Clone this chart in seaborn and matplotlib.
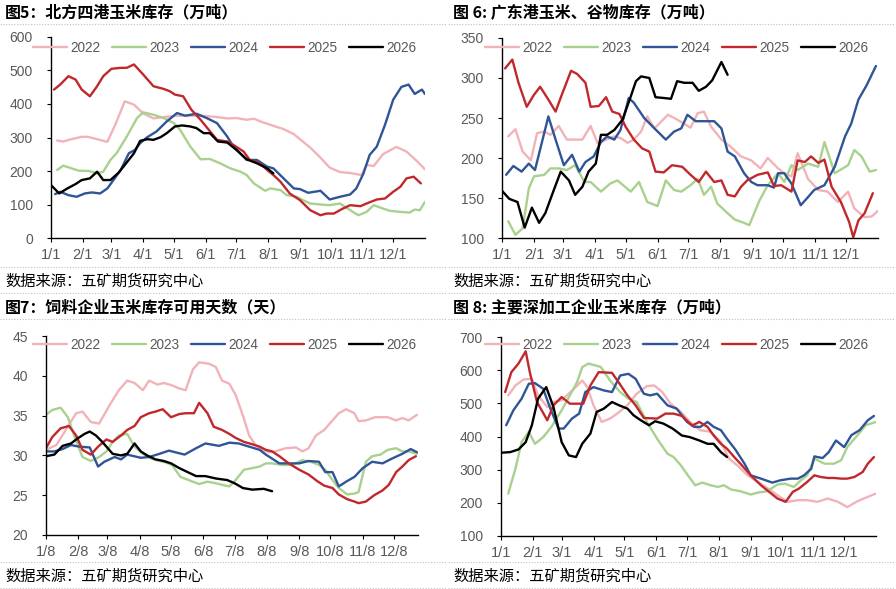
import matplotlib
matplotlib.use('Agg')
import matplotlib.pyplot as plt
import seaborn as sns
from matplotlib.lines import Line2D

sns.set_theme(style='white')
plt.rcParams['font.family'] = ['Liberation Sans', 'Noto Sans CJK SC', 'DejaVu Sans']

years = ['2022', '2023', '2024', '2025', '2026']
colors = ['#F2B3B8', '#A9D18E', '#2F5597', '#C0282C', '#000000']

month_days = [0, 31, 59, 90, 120, 151, 181, 212, 243, 273, 304, 334]
labels_1 = ['1/1', '2/1', '3/1', '4/1', '5/1', '6/1', '7/1', '8/1', '9/1', '10/1', '11/1', '12/1']
labels_8 = ['1/8', '2/8', '3/8', '4/8', '5/8', '6/8', '7/8', '8/8', '9/8', '10/8', '11/8', '12/8']

# ---- fig 5: north four ports corn stock (x = day of year)
p1_2022_x = [6, 12, 20, 30, 36, 45, 55, 63, 72, 81, 90, 100, 113, 123, 133, 146, 159, 172, 181, 191,
             198, 207, 217, 227, 237, 243, 253, 263, 272, 282, 292, 303, 308, 315, 324, 337, 347, 357, 365]
p1_2022_y = [291, 288, 295, 302, 302, 295, 287, 340, 408, 398, 372, 357, 362, 365, 365, 365, 362, 357, 358, 353,
             356, 345, 335, 325, 310, 295, 270, 240, 210, 197, 194, 188, 218, 215, 250, 272, 258, 230, 205]
p1_2023_x = [6, 12, 20, 27, 37, 45, 51, 58, 64, 74, 84, 90, 100, 110, 120, 126, 136, 146, 155, 165,
             175, 185, 191, 198, 209, 214, 224, 230, 240, 246, 253, 263, 272, 282, 292, 300, 308, 315, 324, 331,
             341, 350, 355, 360, 365]
p1_2023_y = [203, 216, 208, 201, 200, 193, 198, 233, 253, 303, 358, 375, 368, 358, 343, 323, 273, 235, 236, 223,
             208, 198, 188, 163, 141, 148, 143, 128, 123, 113, 103, 100, 98, 103, 83, 68, 78, 98, 88, 81,
             78, 76, 85, 83, 108]
p1_2024_x = [4, 9, 17, 25, 33, 40, 48, 55, 61, 68, 76, 82, 87, 94, 103, 113, 123, 131, 142, 152,
             162, 172, 178, 191, 201, 211, 217, 227, 237, 243, 251, 263, 272, 282, 292, 298, 305, 311, 318, 326,
             334, 342, 349, 355, 362, 365]
p1_2024_y = [131, 138, 128, 123, 133, 136, 133, 148, 173, 203, 253, 263, 283, 301, 318, 348, 373, 365, 371, 358,
             343, 303, 273, 233, 233, 213, 208, 178, 148, 146, 135, 141, 115, 123, 130, 148, 193, 248, 273, 338,
             413, 451, 458, 430, 443, 430]
p1_2025_x = [3, 9, 17, 24, 30, 38, 45, 51, 59, 68, 74, 81, 90, 100, 110, 116, 121, 129, 137, 146,
             154, 162, 172, 178, 188, 194, 204, 211, 217, 224, 233, 243, 253, 263, 269, 276, 285, 292, 302, 308,
             318, 326, 334, 341, 347, 354, 361]
p1_2025_y = [443, 458, 483, 473, 443, 423, 453, 483, 505, 508, 508, 518, 488, 453, 445, 438, 428, 423, 383, 353,
             323, 293, 288, 278, 258, 233, 223, 203, 188, 168, 133, 113, 83, 68, 73, 73, 88, 98, 95, 103,
             115, 118, 138, 153, 178, 183, 163]
p1_2026_x = [0, 8, 16, 24, 30, 38, 45, 51, 58, 66, 72, 81, 87, 94, 100, 107, 113, 121, 128, 136,
             142, 149, 155, 163, 172, 181, 191, 201, 211, 217]
p1_2026_y = [158, 133, 148, 161, 173, 178, 198, 173, 173, 195, 218, 253, 290, 295, 293, 301, 313, 333, 336, 333,
             328, 313, 313, 288, 285, 263, 235, 223, 208, 193]

# ---- fig 6: guangdong ports corn & grain stock
p2_2022_x = [6, 13, 20, 28, 34, 41, 47, 55, 63, 71, 78, 86, 93, 101, 109, 115, 122, 128, 135, 141,
             148, 161, 170, 183, 190, 196, 203, 213, 222, 232, 242, 251, 258, 268, 274, 281, 287, 297, 307, 316,
             326, 336, 342, 352, 359, 365]
p2_2022_y = [227, 236, 208, 197, 231, 233, 229, 240, 223, 223, 223, 240, 218, 223, 227, 225, 219, 223, 233, 252,
             237, 254, 248, 238, 256, 258, 239, 223, 214, 202, 197, 187, 200, 187, 181, 177, 206, 174, 160, 158,
             145, 158, 137, 126, 127, 134]
p2_2023_x = [6, 13, 20, 26, 31, 41, 47, 55, 63, 71, 80, 86, 96, 105, 112, 125, 133, 141, 151, 159,
             167, 174, 183, 190, 196, 203, 209, 219, 226, 235, 240, 250, 258, 268, 274, 281, 287, 297, 307, 313,
             323, 336, 342, 349, 357, 363]
p2_2023_y = [121, 104, 112, 162, 177, 179, 187, 187, 185, 191, 170, 170, 158, 168, 172, 158, 170, 145, 140, 172,
             160, 158, 166, 174, 154, 164, 143, 131, 123, 119, 116, 147, 166, 181, 170, 191, 185, 193, 189, 220,
             181, 191, 210, 202, 183, 185]
p2_2024_x = [4, 11, 19, 26, 32, 45, 52, 60, 68, 75, 81, 89, 96, 102, 109, 115, 123, 128, 138, 148,
             159, 167, 174, 180, 188, 196, 206, 213, 219, 226, 235, 242, 248, 258, 264, 268, 274, 281, 290, 297,
             303, 313, 323, 333, 339, 346, 354, 363]
p2_2024_y = [179, 190, 183, 193, 185, 252, 223, 191, 204, 183, 195, 202, 220, 227, 223, 235, 275, 269, 250, 237,
             223, 233, 237, 254, 246, 246, 246, 237, 208, 202, 181, 170, 166, 166, 163, 181, 181, 168, 141, 151,
             160, 166, 189, 227, 243, 273, 291, 315]
p2_2025_x = [3, 10, 16, 24, 31, 37, 45, 52, 58, 67, 73, 81, 86, 94, 101, 107, 114, 120, 128, 136,
             143, 149, 157, 165, 175, 183, 191, 198, 206, 213, 219, 226, 232, 238, 248, 258, 264, 271, 281, 287,
             294, 300, 307, 313, 320, 329, 337, 341, 346, 352, 360]
p2_2025_y = [312, 323, 294, 264, 279, 289, 273, 258, 279, 309, 305, 294, 264, 265, 276, 258, 255, 239, 223, 212,
             208, 183, 182, 191, 189, 179, 170, 183, 170, 172, 154, 152, 164, 172, 179, 182, 165, 166, 158, 197,
             195, 202, 194, 198, 164, 145, 120, 101, 122, 131, 156]
p2_2026_x = [0, 7, 15, 22, 29, 36, 42, 50, 57, 65, 71, 78, 84, 91, 96, 102, 109, 117, 125, 130,
             135, 143, 149, 157, 164, 170, 177, 185, 191, 198, 204, 213, 219]
p2_2026_y = [159, 149, 145, 113, 138, 119, 131, 159, 183, 172, 154, 164, 183, 193, 229, 229, 235, 248, 277, 296,
             302, 300, 276, 275, 274, 296, 294, 294, 284, 289, 297, 320, 304]

# ---- fig 7: feed mills corn stock days (x = days from 1/8)
p3_2022_x = [0, 10, 19, 29, 35, 43, 51, 61, 70, 78, 85, 93, 99, 107, 113, 121, 128, 134, 141, 147,
             157, 163, 169, 176, 182, 189, 195, 201, 208, 214, 220, 230, 240, 246, 252, 259, 267, 275, 281, 288,
             296, 300, 307, 316, 328, 336, 342, 348, 356]
p3_2022_y = [30.7, 31.3, 33.2, 35.3, 35.5, 34.2, 34.0, 36.3, 38.2, 39.4, 39.1, 38.2, 39.4, 38.9, 39.1, 38.8, 38.4, 38.2, 40.8, 41.7,
             41.5, 41.1, 39.4, 39.0, 37.6, 35.0, 32.5, 31.3, 30.7, 30.4, 30.5, 30.9, 31.0, 30.5, 30.9, 32.5, 33.2, 34.4, 35.3, 35.8,
             35.3, 34.3, 34.4, 34.8, 34.8, 34.4, 34.7, 34.4, 35.1]
p3_2023_x = [0, 6, 14, 21, 27, 35, 43, 51, 58, 64, 70, 78, 85, 93, 101, 109, 115, 121, 129, 137,
             147, 155, 163, 169, 176, 182, 190, 198, 205, 211, 217, 227, 236, 246, 254, 262, 268, 275, 281, 289,
             296, 300, 307, 313, 321, 328, 336, 342, 348, 356]
p3_2023_y = [35.1, 35.7, 36.0, 34.8, 32.5, 29.8, 29.3, 29.8, 30.5, 31.7, 32.5, 32.7, 31.1, 30.2, 29.6, 29.3, 29.1, 28.8, 27.3, 26.9,
             26.4, 26.7, 26.5, 26.3, 26.1, 26.9, 28.2, 28.4, 28.6, 29.0, 29.0, 28.8, 28.8, 29.4, 29.2, 28.8, 28.2, 26.9, 25.9, 25.1,
             25.2, 25.4, 29.2, 29.9, 30.1, 30.7, 30.9, 30.5, 30.5, 30.2]
p3_2024_x = [0, 8, 16, 24, 32, 42, 50, 56, 66, 72, 78, 91, 99, 109, 118, 133, 144, 153, 166, 176,
             185, 195, 205, 211, 217, 224, 233, 243, 252, 262, 268, 275, 281, 288, 296, 304, 313, 323, 332, 342,
             350, 356]
p3_2024_y = [30.5, 30.5, 30.8, 31.3, 31.1, 31.0, 28.6, 29.2, 29.8, 29.5, 30.1, 29.7, 29.8, 30.2, 30.6, 30.1, 30.9, 31.5, 31.2, 31.6,
             31.5, 31.1, 30.7, 30.1, 29.6, 29.0, 29.0, 29.0, 29.3, 29.2, 27.9, 27.9, 26.1, 26.7, 27.3, 28.4, 29.2, 29.0, 29.6, 30.2,
             30.8, 30.4]
p3_2025_x = [0, 6, 14, 22, 29, 35, 43, 50, 58, 64, 72, 78, 85, 91, 99, 105, 112, 120, 128, 134,
             142, 147, 155, 161, 169, 176, 182, 190, 198, 205, 211, 217, 224, 233, 243, 252, 260, 267, 275, 281,
             289, 296, 300, 307, 315, 323, 329, 336, 342, 348, 355]
p3_2025_y = [30.9, 32.3, 33.4, 33.7, 32.5, 30.7, 30.1, 31.1, 32.0, 31.7, 32.5, 33.2, 33.7, 34.8, 35.3, 35.5, 35.8, 34.8, 35.2, 35.3,
             35.3, 36.6, 35.3, 33.6, 33.2, 32.7, 32.2, 31.7, 31.4, 31.1, 30.7, 30.5, 29.9, 29.0, 28.2, 27.6, 26.8, 26.2, 25.9, 25.1,
             24.5, 24.2, 24.0, 24.2, 25.0, 25.6, 26.3, 27.9, 28.6, 29.4, 29.9]
p3_2026_x = [0, 8, 16, 24, 30, 37, 42, 48, 54, 64, 72, 78, 85, 91, 97, 105, 113, 120, 128, 136,
             144, 153, 163, 174, 181, 189, 198, 209, 217]
p3_2026_y = [29.9, 30.1, 31.2, 31.5, 32.1, 32.7, 33.0, 32.5, 31.7, 30.2, 30.0, 30.2, 31.5, 30.5, 30.0, 29.5, 29.3, 29.0, 28.4, 27.9,
             27.4, 27.4, 27.1, 26.9, 26.5, 25.9, 25.7, 25.8, 25.5]

# ---- fig 8: main deep-processing corn stock
p4_2022_x = [7, 14, 22, 30, 36, 45, 51, 59, 71, 79, 84, 90, 98, 106, 113, 123, 132, 142, 149, 157,
             165, 175, 184, 194, 204, 214, 222, 230, 240, 250, 259, 269, 279, 289, 298, 308, 318, 328, 337, 347,
             357, 365]
p4_2022_y = [524, 554, 572, 574, 524, 489, 504, 509, 544, 569, 549, 494, 444, 454, 469, 494, 529, 552, 554, 534,
             499, 474, 444, 419, 414, 383, 333, 313, 283, 263, 245, 223, 203, 208, 208, 203, 213, 203, 187, 205,
             218, 228]
p4_2023_x = [7, 14, 20, 27, 33, 41, 49, 59, 67, 74, 79, 85, 97, 106, 116, 124, 132, 142, 152, 162,
             168, 175, 183, 189, 196, 204, 211, 217, 224, 233, 243, 250, 259, 269, 276, 285, 292, 298, 305, 315,
             324, 331, 337, 347, 355, 365]
p4_2023_y = [228, 303, 383, 414, 378, 398, 429, 479, 524, 564, 609, 620, 610, 569, 534, 514, 504, 444, 393, 348,
             338, 313, 278, 253, 261, 253, 248, 253, 240, 235, 225, 231, 235, 255, 258, 248, 268, 283, 333, 318,
             318, 328, 368, 404, 434, 444]
p4_2024_x = [5, 12, 20, 27, 33, 41, 48, 56, 61, 69, 76, 82, 90, 100, 108, 116, 124, 131, 139, 145,
             152, 162, 171, 181, 188, 194, 201, 207, 214, 220, 228, 237, 243, 253, 264, 272, 282, 289, 295, 302,
             305, 313, 319, 326, 334, 341, 349, 357, 363]
p4_2024_y = [434, 479, 514, 559, 561, 544, 484, 424, 424, 454, 469, 534, 549, 539, 534, 584, 589, 574, 529, 524,
             529, 494, 484, 444, 429, 429, 444, 429, 419, 393, 361, 318, 283, 273, 261, 268, 273, 273, 283, 303,
             340, 335, 353, 388, 368, 404, 419, 449, 462]
p4_2025_x = [4, 10, 17, 24, 28, 35, 45, 51, 59, 67, 76, 80, 87, 95, 108, 115, 123, 131, 139, 152,
             160, 168, 176, 186, 193, 201, 207, 214, 220, 227, 233, 243, 253, 259, 269, 277, 284, 290, 298, 305,
             311, 318, 324, 331, 337, 344, 352, 357, 363]
p4_2025_y = [534, 594, 620, 657, 594, 504, 449, 494, 519, 499, 499, 499, 554, 594, 592, 561, 524, 494, 456, 454,
             469, 469, 462, 433, 444, 429, 403, 378, 363, 338, 318, 283, 253, 238, 213, 203, 233, 243, 263, 283,
             278, 275, 275, 273, 273, 278, 293, 318, 338]
p4_2026_x = [0, 9, 17, 24, 30, 36, 44, 51, 59, 66, 73, 79, 87, 93, 100, 108, 115, 123, 129, 136,
             144, 150, 158, 167, 176, 184, 193, 201, 207, 214, 220]
p4_2026_y = [351, 353, 361, 383, 434, 514, 549, 489, 383, 343, 338, 378, 409, 474, 484, 504, 494, 484, 464, 449,
             434, 446, 439, 424, 403, 398, 388, 378, 378, 353, 338]

titles = ['图5：北方四港玉米库存（万吨）', '图 6: 广东港玉米、谷物库存（万吨）',
          '图7：饲料企业玉米库存可用天数（天）', '图 8: 主要深加工企业玉米库存（万吨）']
source = '数据来源：五矿期货研究中心'

panels = [
    dict(rect=[0.0569, 0.5959, 0.4174, 0.3413], xs=[p1_2022_x, p1_2023_x, p1_2024_x, p1_2025_x, p1_2026_x],
         ys=[p1_2022_y, p1_2023_y, p1_2024_y, p1_2025_y, p1_2026_y], yticks=range(0, 601, 100),
         xlabels=labels_1, xmax=365, leg=(0.465, 0.945)),
    dict(rect=[0.5603, 0.5959, 0.4196, 0.3396], xs=[p2_2022_x, p2_2023_x, p2_2024_x, p2_2025_x, p2_2026_x],
         ys=[p2_2022_y, p2_2023_y, p2_2024_y, p2_2025_y, p2_2026_y], yticks=range(100, 351, 50),
         xlabels=labels_1, xmax=365, leg=(0.464, 0.95)),
    dict(rect=[0.0513, 0.0917, 0.4152, 0.3378], xs=[p3_2022_x, p3_2023_x, p3_2024_x, p3_2025_x, p3_2026_x],
         ys=[p3_2022_y, p3_2023_y, p3_2024_y, p3_2025_y, p3_2026_y], yticks=range(20, 46, 5),
         xlabels=labels_8, xmax=357, leg=(0.48, 0.955)),
    dict(rect=[0.5592, 0.0900, 0.4185, 0.3378], xs=[p4_2022_x, p4_2023_x, p4_2024_x, p4_2025_x, p4_2026_x],
         ys=[p4_2022_y, p4_2023_y, p4_2024_y, p4_2025_y, p4_2026_y], yticks=range(100, 701, 100),
         xlabels=labels_1, xmax=365, leg=(0.468, 0.96)),
]

W, H = 896, 589
fig = plt.figure(figsize=(W / 100, H / 100), dpi=100)
fig.patch.set_facecolor('white')
gray = '#595959'

for i, p in enumerate(panels):
    ax = fig.add_axes(p['rect'])
    for yr, col, xx, yy in zip(years, colors, p['xs'], p['ys']):
        sns.lineplot(x=xx, y=yy, ax=ax, color=col, linewidth=1.7, label=yr,
                     sort=False, estimator=None)
    yt = list(p['yticks'])
    ax.set_ylim(yt[0], yt[-1])
    ax.set_xlim(0, p['xmax'])
    ax.set_yticks(yt)
    ax.set_xticks(month_days)
    ax.set_xticklabels(p['xlabels'], fontsize=10.5)
    for s in ['top', 'right']:
        ax.spines[s].set_visible(False)
    for s in ['left', 'bottom']:
        ax.spines[s].set_color('#000000')
        ax.spines[s].set_linewidth(1.0)
    ax.tick_params(axis='both', direction='out', length=3, width=0.8, color='#000000',
                   labelcolor=gray)
    ax.tick_params(axis='y', pad=10, left=True, labelsize=10)
    ax.tick_params(axis='x', pad=4, bottom=True)
    ax.set_xlabel('')
    ax.set_ylabel('')
    ax.legend(loc='center', bbox_to_anchor=p['leg'], ncol=5, frameon=False,
              fontsize=9.8, labelcolor=gray, handlelength=2.5, handletextpad=0.25,
              columnspacing=0.85, borderaxespad=0, borderpad=0)

    # title, source and dotted separators
    col = i % 2
    row = i // 2
    x0 = col * 0.5
    top = row * 295
    fig.text(x0 + 5 / W, 1 - (top + 12) / H, titles[i], fontsize=11.5, fontweight='bold',
             family=['Noto Sans CJK SC', 'DejaVu Sans'], va='center', ha='left', color='#000000')
    fig.text(x0 + 5 / W, 1 - (top + 281) / H, source, fontsize=11,
             family=['Noto Sans CJK SC', 'DejaVu Sans'], va='center', ha='left', color='#000000')
    for yy in [24, 267, 293]:
        fig.add_artist(Line2D([x0, x0 + 0.5 - 2 / W], [1 - (top + yy) / H] * 2, transform=fig.transFigure,
                              color='#BFBFBF', linewidth=0.8, linestyle=(0, (1, 1.5))))

fig.savefig('out.png', dpi=100, facecolor='white')
